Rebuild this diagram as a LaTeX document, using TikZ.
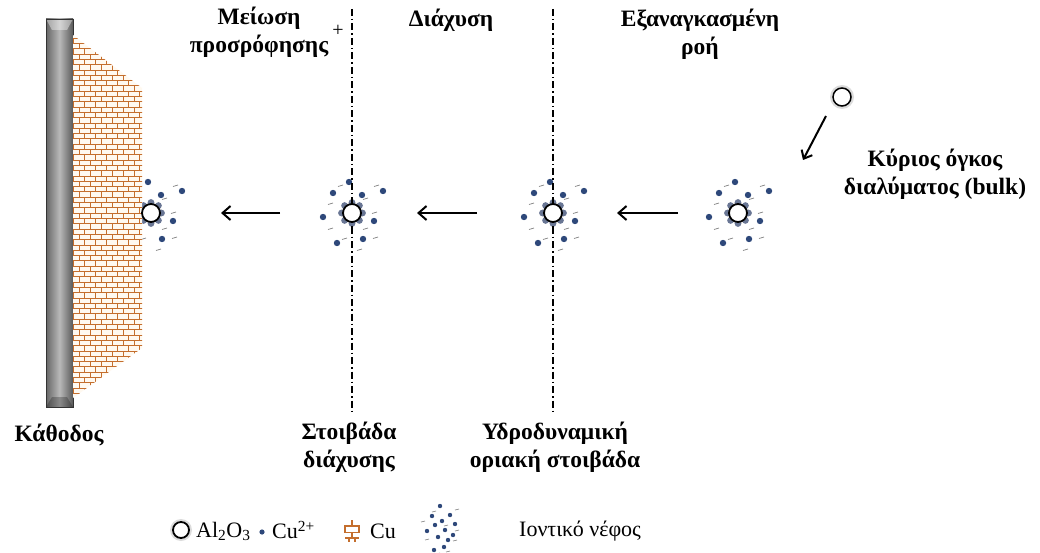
\documentclass[tikz,border=0pt]{standalone}
\usepackage{fontspec}
\setmainfont{Liberation Serif}
\usetikzlibrary{arrows.meta}

\definecolor{brickline}{RGB}{196,110,45}
\definecolor{brickfill}{RGB}{255,249,240}
\definecolor{iondot}{RGB}{46,72,122}
\definecolor{ionring}{RGB}{105,118,148}

\begin{document}
\begin{tikzpicture}[x=1pt,y=-1pt,
  lbl/.style={font=\bfseries\fontsize{23.5}{28}\selectfont,align=center,inner sep=0pt},
  leg/.style={font=\fontsize{22}{24}\selectfont,anchor=west,inner sep=0pt},
  alo/.style={circle,draw=black,fill=white,line width=1.8pt,minimum size=18pt,inner sep=0pt},
  brick/.style={draw=brickline,line width=1pt},
  flow/.style={line width=2pt,-{Straight Barb[length=8pt,width=14pt]}},
  layer/.style={line width=1.8pt,dash pattern=on 7pt off 3pt on 1.5pt off 3pt}]
\useasboundingbox (0,0) rectangle (1040,553);
\fill[white] (0,0) rectangle (1040,553);

% ion clouds round the particles
\foreach \cx in {151,352,553,738} {
\begin{scope}[shift={(\cx,213)}]
\foreach \a in {0,45,...,315} {\fill[ionring] (\a:10.5) circle (3.4);}
\foreach \p in {(-3,-31),(-19,-20),(10,-18),(31,-22),(-29,4),(22,8),(-15,30),(11,26)}
  {\fill[iondot] \p circle (3.2);}
\foreach \p in {(-9,-28),(27,-28),(-19,-10),(16,-15),(25,-1),(-19,15),(16,15),(26,24),(10,36),(-5,25)}
  {\draw[gray,line width=0.7pt] \p -- ++(-5,1.5);}
\end{scope}
}

% cathode bar
\shade[left color=gray!80!black,right color=gray!70!black,middle color=gray!55] (46,19) rectangle (73,407);
\fill[white,opacity=.4] (46,19) -- (73,19) -- (67,30) -- (52,30) -- cycle;
\fill[black,opacity=.25] (46,407) -- (73,407) -- (67,397) -- (52,397) -- cycle;
\draw[gray!40!black,line width=0.8pt] (46,19) rectangle (73,407);

% copper deposit
\begin{scope}
\clip (73,35) -- (142,88) -- (142,348) -- (73,398) -- cycle;
\fill[brickfill] (73,30) rectangle (145,400);
\foreach \r in {0,...,70} {
  \pgfmathsetmacro\yy{33+\r*5.3}
  \pgfmathsetmacro\off{mod(\r,2)*5.5}
  \draw[brick] (73,\yy) -- (145,\yy);
  \foreach \x in {0,...,7} {\draw[brick] (68+\off+\x*11,\yy) -- ++(0,5.3);}
}
\end{scope}

% boundary layers
\draw[layer] (352,9) -- (352,411);
\draw[layer] (553,9) -- (553,411);

% particles
\node[alo] (p1) at (151,213) {};
\node[alo] (p2) at (352,213) {};
\node[alo] (p3) at (553,213) {};
\node[alo] (p4) at (738,213) {};
\fill[gray!45,opacity=.6] (842,97) circle (12);
\node[alo,line width=1.5pt] (p5) at (842,97) {};

% transport arrows
\coordinate (a1s) at (280,213); \coordinate (a1e) at (221,213);
\coordinate (a2s) at (477,213); \coordinate (a2e) at (417,213);
\coordinate (a3s) at (678,213); \coordinate (a3e) at (617,213);
\coordinate (a4s) at (826,116); \coordinate (a4e) at (803,160);
\draw[flow] (a1s) -- (a1e);
\draw[flow] (a2s) -- (a2e);
\draw[flow] (a3s) -- (a3e);
\draw[flow,-{Straight Barb[length=7pt,width=12pt]}] (a4s) -- (a4e);

% labels
\node[lbl] (ads) at (259,32) {Μείωση\\προσρόφησης};
\node[font=\fontsize{20}{22}\selectfont,inner sep=0pt] (plus) at (338,31) {+};
\node[lbl] (diff) at (451,20) {Διάχυση};
\node[lbl] (forced) at (700,34) {Εξαναγκασμένη\\ροή};
\node[lbl] (bulk) at (935,174) {Κύριος όγκος\\διαλύματος (bulk)};
\node[lbl] (cath) at (59,435) {Κάθοδος};
\node[lbl] (dlayer) at (349,447) {Στοιβάδα\\διάχυσης};
\node[lbl] (hlayer) at (555,447) {Υδροδυναμική\\οριακή στοιβάδα};

% legend
\fill[gray!45,opacity=.6] (181,530) circle (11);
\node[alo,minimum size=16pt,line width=1.8pt] (kalo) at (181,530) {};
\node[leg] (talo) at (196,531) {Al\textsubscript{2}O\textsubscript{3}};
\fill[iondot] (262,532) circle (2.6);
\node[leg] (tcu2) at (272,530) {Cu\textsuperscript{2+}};
\begin{scope}[shift={(352,531)}]
\draw[brick,line width=1.5pt] (-7,-5) rectangle (7,1.5);
\draw[brick,line width=1.5pt] (-7,7) -- (7,7) (0,-11) -- (0,-5) (0,1.5) -- (0,7) (-3,7) -- (-3,11) (3,7) -- (3,11);
\end{scope}
\node[leg] (tcu) at (370,531) {Cu};
\begin{scope}[shift={(442,528)}]
\foreach \p in {(-2,-22),(8,-13),(-10,-12),(0,-7),(13,-4),(-7,-3),(3,2),(-15,3),(11,7),(-4,9),(6,12),(-8,22),(2,19)}
  {\fill[iondot] \p circle (2.2);}
\foreach \p in {(-6,-17),(17,-19),(-17,-7),(6,-3),(17,2),(-13,11),(15,12),(8,23),(-2,25)}
  {\draw[gray,line width=0.6pt] \p -- ++(-4,1);}
\end{scope}
\node[leg] (tcloud) at (519,531) {Ιοντικό νέφος};
\end{tikzpicture}
\end{document}
